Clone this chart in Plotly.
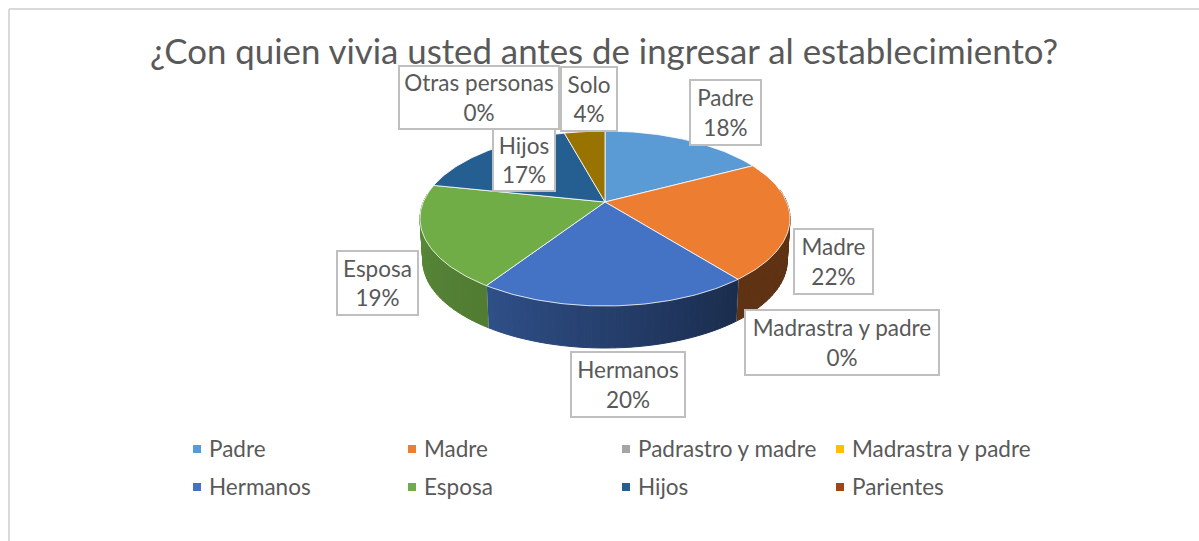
import math
import plotly.graph_objects as go

# ---- data ----
TITLE = "¿Con quien vivia usted antes de ingresar al establecimiento?"
categories = ["Padre", "Madre", "Padrastro y madre", "Madrastra y padre", "Hermanos",
              "Esposa", "Hijos", "Parientes", "Otras personas", "Solo"]
values = [18, 22, 0, 0, 20, 19, 17, 0, 0, 4]
colors = ["#5B9BD5", "#ED7D31", "#A5A5A5", "#FFC000", "#4472C4",
          "#70AD47", "#255E91", "#9E480E", "#636363", "#997300"]
legend_names = categories[:8]

# ---- layout constants (pixels) ----
W, H = 1199, 541
CX, CY = 605, 202
BX, AY, K = 181.7, 84.4, 0.1885
DEPTH, BOTTOM_SCALE = 42, 0.985
WARP = 2.6  # small angular distortion of the 3-D perspective
TEXT = "#595959"
FONT = "Lato"

label_boxes = {
    "Padre": (689, 79, 762, 146),
    "Madre": (793, 228, 874, 295),
    "Madrastra y padre": (744, 309, 940, 376),
    "Hermanos": (570, 351, 686, 418),
    "Esposa": (336, 250, 419, 316),
    "Hijos": (492, 128, 556, 192),
    "Otras personas": (398, 65, 560, 130),
    "Solo": (560, 66, 618, 132),
}
legend_cols = [193, 408, 622, 836]
legend_rows = [449, 487]


def top(theta):
    theta = theta - WARP * min(1, theta / 40, (360 - theta) / 40)
    t = math.radians(theta)
    X, Y = math.sin(t), math.cos(t)
    w = 1 + K * Y
    return CX + BX * X / w, CY - AY * Y / w


def bottom(theta):
    x, y = top(theta)
    return CX + (x - CX) * BOTTOM_SCALE, y + DEPTH


def shade(hex_color, f):
    r, g, b = (int(hex_color[i:i + 2], 16) for i in (1, 3, 5))
    return f"rgb({int(r * f)},{int(g * f)},{int(b * f)})"


def wall_factor(theta):
    if theta <= 146:
        return 0.40
    if theta <= 216:
        return 0.40 + (theta - 146) / 70 * 0.30
    return 0.72 + (theta - 216) / 60 * 0.08


fig = go.Figure()
total = sum(values)
spans = []
acc = 0
for name, v, c in zip(categories, values, colors):
    if v > 0:
        spans.append((name, acc / total * 360, (acc + v) / total * 360, c))
    acc += v

# side walls, drawn as thin strips so that the shading runs across them
WALL_FROM, WALL_TO = 84, 278
for name, a0, a1, c in spans:
    lo, hi = max(a0, WALL_FROM), min(a1, WALL_TO)
    th = lo
    while th < hi:
        nx = min(th + 2, hi)
        p = [top(th), top(nx), bottom(nx), bottom(th), top(th)]
        col = shade(c, wall_factor((th + nx) / 2))
        fig.add_trace(go.Scatter(x=[q[0] for q in p], y=[q[1] for q in p], mode="lines",
                                 fill="toself", fillcolor=col, line=dict(color=col, width=1),
                                 hoverinfo="skip", showlegend=False))
        th = nx
    if WALL_FROM < a1 < WALL_TO:
        p = [top(a1), bottom(a1)]
        fig.add_trace(go.Scatter(x=[q[0] for q in p], y=[q[1] for q in p], mode="lines",
                                 line=dict(color="rgba(255,255,255,0.75)", width=1.2),
                                 hoverinfo="skip", showlegend=False))

# top face
for name, a0, a1, c in spans:
    n = max(int(a1 - a0), 2)
    arc = [top(a0 + (a1 - a0) * i / n) for i in range(n + 1)]
    p = [(CX, CY)] + arc + [(CX, CY)]
    fig.add_trace(go.Scatter(x=[q[0] for q in p], y=[q[1] for q in p], mode="lines",
                             fill="toself", fillcolor=c,
                             line=dict(color="rgba(255,255,255,0.8)", width=1),
                             hoverinfo="skip", showlegend=False))

# legend keys
key_x, key_y, key_c = [], [], []
for i, name in enumerate(legend_names):
    key_x.append(legend_cols[i % 4] + 4)
    key_y.append(legend_rows[i // 4])
    key_c.append(colors[categories.index(name)])
fig.add_trace(go.Scatter(x=key_x, y=key_y, mode="markers",
                         marker=dict(symbol="square", size=8, color=key_c),
                         hoverinfo="skip", showlegend=False))

annotations = []
for i, name in enumerate(legend_names):
    annotations.append(dict(x=legend_cols[i % 4] + 14, y=legend_rows[i // 4] - 1, xref="x", yref="y",
                            text=name, showarrow=False, xanchor="left",
                            font=dict(family=FONT, size=22.5, color=TEXT)))
for name in ["Padre", "Madre", "Madrastra y padre", "Hermanos", "Esposa", "Hijos",
             "Otras personas", "Solo"]:
    x0, y0, x1, y1 = label_boxes[name]
    v = values[categories.index(name)]
    annotations.append(dict(x=(x0 + x1) / 2, y=(y0 + y1) / 2, xref="x", yref="y",
                            text=f"{name}<br>{v}%", showarrow=False, align="center",
                            width=x1 - x0 - 4, height=y1 - y0 - 4,
                            bgcolor="white", bordercolor="#BFBFBF", borderwidth=2, borderpad=0,
                            font=dict(family=FONT, size=22.5, color=TEXT)))
annotations.append(dict(x=604, y=50, xref="x", yref="y", text=TITLE, showarrow=False,
                        font=dict(family=FONT, size=34.8, color=TEXT)))

frame = dict(type="line", xref="x", yref="y", line=dict(color="#D9D9D9", width=2))
fig.update_layout(
    width=W, height=H, margin=dict(l=0, r=0, t=0, b=0), autosize=False,
    paper_bgcolor="white", plot_bgcolor="white", showlegend=False,
    xaxis=dict(range=[0, W], visible=False, fixedrange=True),
    yaxis=dict(range=[H, 0], visible=False, fixedrange=True),
    annotations=annotations,
    shapes=[dict(frame, x0=9, y0=9, x1=9, y1=H), dict(frame, x0=9, y0=9, x1=W, y1=9)],
)
fig.write_html("out.html", config={"displayModeBar": False},
               post_script="document.body.style.margin='0';document.documentElement.style.overflow='hidden';")
